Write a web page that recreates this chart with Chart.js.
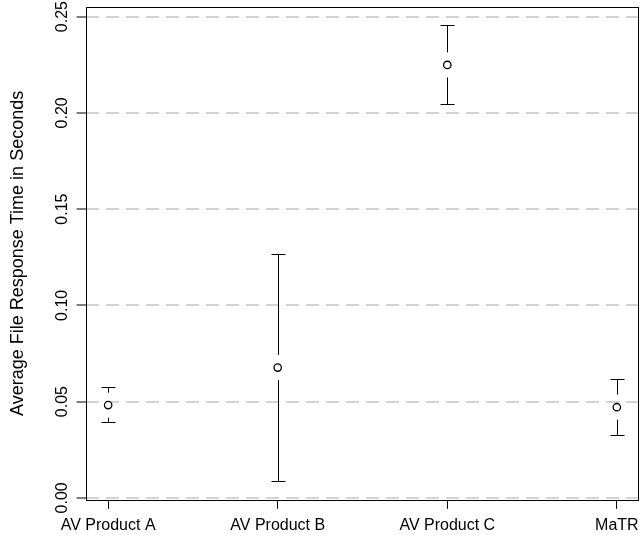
<!DOCTYPE html>
<html>
<head>
<meta charset="utf-8">
<script src="https://cdn.jsdelivr.net/npm/chart.js@4.4.0/dist/chart.umd.min.js"></script>
<style>
  body { margin: 0; background: #fff; }
  #wrap { width: 643px; height: 544px; }
</style>
</head>
<body>
<div id="wrap"><canvas id="errChart"></canvas></div>
<script>
// response times, seconds
var products = ["AV Product A", "AV Product B", "AV Product C", "MaTR"];
var meanTime = [0.0482, 0.0677, 0.2249, 0.0471];
var lowerTime = [0.0393, 0.0088, 0.2044, 0.0326];
var upperTime = [0.0574, 0.1267, 0.2454, 0.0617];
var yTicks = [0.00, 0.05, 0.10, 0.15, 0.20, 0.25];

var fontFam = "'Liberation Sans', Arial, Helvetica, sans-serif";

var pts = [];
for (var i = 0; i < products.length; i++) {
  pts.push({x: i + 1, y: meanTime[i]});
}

// error bars + the box round the plot, R style
var errBars = {
  id: "errBars",
  afterDatasetsDraw: function(chart) {
    var ctx = chart.ctx;
    var xs = chart.scales.x, ys = chart.scales.y;
    var a = chart.chartArea;
    ctx.save();
    ctx.strokeStyle = "#000";
    ctx.lineWidth = 1;
    for (var i = 0; i < products.length; i++) {
      var px = Math.round(xs.getPixelForValue(i + 1)) + 0.5;
      var pm = ys.getPixelForValue(meanTime[i]);
      var pl = ys.getPixelForValue(lowerTime[i]);
      var pu = ys.getPixelForValue(upperTime[i]);
      var gap = 12.5;
      ctx.beginPath();
      if (pm - pu > gap) { ctx.moveTo(px, pu); ctx.lineTo(px, pm - gap); }
      if (pl - pm > gap) { ctx.moveTo(px, pm + gap); ctx.lineTo(px, pl); }
      ctx.moveTo(px - 7, Math.round(pu) + 0.5); ctx.lineTo(px + 7, Math.round(pu) + 0.5);
      ctx.moveTo(px - 7, Math.round(pl) + 0.5); ctx.lineTo(px + 7, Math.round(pl) + 0.5);
      ctx.stroke();
    }
    ctx.strokeRect(Math.round(a.left) + 0.5, Math.round(a.top) + 0.5,
      Math.round(a.right - a.left), Math.round(a.bottom - a.top));

    // y tick labels, turned like R's las=0
    ctx.fillStyle = "#000";
    ctx.font = "16px " + fontFam;
    ctx.textAlign = "center";
    ctx.textBaseline = "middle";
    for (var j = 0; j < yTicks.length; j++) {
      var py = ys.getPixelForValue(yTicks[j]);
      ctx.save();
      ctx.translate(63, py);
      ctx.rotate(-Math.PI / 2);
      ctx.fillText(yTicks[j].toFixed(2), 0, 0);
      ctx.restore();
    }
    ctx.restore();
  }
};

var ctxE = document.getElementById("errChart").getContext("2d");
var myChart = new Chart(ctxE, {
  type: "scatter",
  data: {
    datasets: [{
      data: pts,
      pointStyle: "circle",
      pointRadius: 3.7,
      pointBorderWidth: 1.3,
      pointBorderColor: "#000",
      pointBackgroundColor: "#fff"
    }]
  },
  options: {
    responsive: true,
    maintainAspectRatio: false,
    animation: false,
    layout: { padding: { top: 7, right: 3, bottom: 2, left: 0 } },
    plugins: { legend: { display: false }, tooltip: { enabled: false } },
    scales: {
      x: {
        type: "linear",
        min: 0.867,
        max: 4.123,
        afterBuildTicks: function(s) {
          s.ticks = products.map(function(p, i) { return {value: i + 1}; });
        },
        afterFit: function(s) {
          // let the MaTR label hang past the box like R does
          s.paddingLeft = 0;
          s.paddingRight = 0;
        },
        grid: { drawOnChartArea: false, tickLength: 9, color: "#000", tickColor: "#000" },
        border: { display: false },
        ticks: {
          autoSkip: false,
          maxRotation: 0,
          padding: 7,
          color: "#000",
          font: { family: fontFam, size: 16 },
          callback: function(v) { return products[v - 1]; }
        }
      },
      y: {
        min: -0.001,
        max: 0.255,
        afterBuildTicks: function(s) {
          s.ticks = yTicks.map(function(v) { return {value: v}; });
        },
        grid: {
          color: "#d3d3d3",
          lineWidth: 2,
          tickLength: 9,
          tickColor: "#000",
          tickWidth: 1,
          tickBorderDash: []
        },
        border: { display: false, dash: [13, 7] },
        ticks: { display: false },
        title: {
          display: true,
          text: "Average File Response Time in Seconds",
          color: "#000",
          font: { family: fontFam, size: 18 },
          padding: { top: 7, bottom: 48 }
        }
      }
    }
  },
  plugins: [errBars]
});
</script>
</body>
</html>
